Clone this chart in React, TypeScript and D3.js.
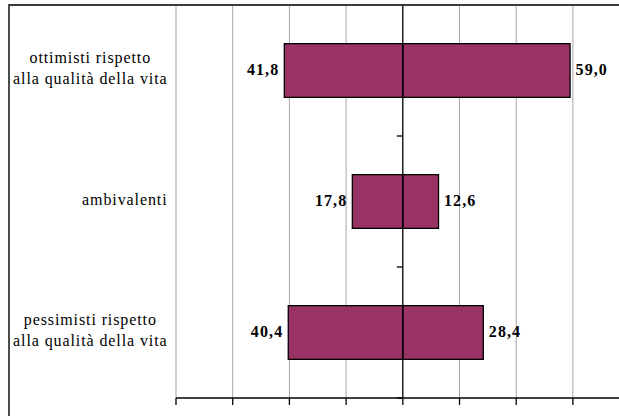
import React, { useEffect, useRef } from "react";
import * as d3 from "d3";

const categories = [
  ["ottimisti rispetto", "alla qualità della vita"],
  ["ambivalenti"],
  ["pessimisti rispetto", "alla qualità della vita"],
];
const leftValues = [41.8, 17.8, 40.4];
const rightValues = [59.0, 12.6, 28.4];
const xTicks = [-80, -60, -40, -20, 0, 20, 40, 60, 80];

const W = 619;
const H = 416;

export default function App() {
  const ref = useRef<SVGSVGElement | null>(null);

  useEffect(() => {
    const svg = d3.select(ref.current);
    svg.selectAll("*").remove();

    const x = d3.scaleLinear().domain([-80, 80]).range([176, 629.6]);
    const y = d3
      .scaleBand<number>()
      .domain(d3.range(categories.length))
      .range([5, 398])
      .paddingInner(0.59)
      .paddingOuter(0.295);
    const step = y.step();

    // gridlines
    svg
      .append("g")
      .selectAll("line")
      .data(xTicks.filter((t) => t !== 0))
      .join("line")
      .attr("x1", (d) => x(d))
      .attr("x2", (d) => x(d))
      .attr("y1", 5)
      .attr("y2", 398)
      .attr("stroke", "#a6a6a6")
      .attr("stroke-width", 1);

    // bars
    const bars = svg.append("g");
    categories.forEach((_, i) => {
      const y0 = y(i)!;
      const bw = y.bandwidth();
      bars
        .append("rect")
        .attr("x", x(-leftValues[i]))
        .attr("y", y0)
        .attr("width", x(0) - x(-leftValues[i]))
        .attr("height", bw)
        .attr("fill", "#993366")
        .attr("stroke", "#000")
        .attr("stroke-width", 1.3);
      bars
        .append("rect")
        .attr("x", x(0))
        .attr("y", y0)
        .attr("width", x(rightValues[i]) - x(0))
        .attr("height", bw)
        .attr("fill", "#993366")
        .attr("stroke", "#000")
        .attr("stroke-width", 1.3);
    });

    const fmt = (v: number) => v.toFixed(1).replace(".", ",");

    // value labels
    const labels = svg
      .append("g")
      .attr("font-family", "'Liberation Serif', 'Times New Roman', serif")
      .attr("font-weight", "bold")
      .attr("font-size", 16)
      .attr("letter-spacing", 1.1)
      .attr("fill", "#000");
    categories.forEach((_, i) => {
      const cy = y(i)! + y.bandwidth() / 2 + 4;
      labels
        .append("text")
        .attr("x", x(-leftValues[i]) - 5)
        .attr("y", cy)
        .attr("text-anchor", "end")
        .text(fmt(leftValues[i]));
      labels
        .append("text")
        .attr("x", x(rightValues[i]) + 5.5)
        .attr("y", cy)
        .attr("text-anchor", "start")
        .text(fmt(rightValues[i]));
    });

    // category axis (vertical at 0)
    svg
      .append("line")
      .attr("x1", x(0))
      .attr("x2", x(0))
      .attr("y1", 5)
      .attr("y2", 398)
      .attr("stroke", "#000")
      .attr("stroke-width", 1.3);
    const boundaries = d3.range(categories.length + 1).map((i) => 5 + i * step);
    svg
      .append("g")
      .selectAll("line")
      .data(boundaries)
      .join("line")
      .attr("x1", x(0) - 6)
      .attr("x2", x(0))
      .attr("y1", (d) => d)
      .attr("y2", (d) => d)
      .attr("stroke", "#000")
      .attr("stroke-width", 1.3);

    // value axis (bottom)
    svg
      .append("line")
      .attr("x1", x(-80))
      .attr("x2", W + 20)
      .attr("y1", 398)
      .attr("y2", 398)
      .attr("stroke", "#000")
      .attr("stroke-width", 1.3);
    svg
      .append("g")
      .selectAll("line")
      .data(xTicks)
      .join("line")
      .attr("x1", (d) => x(d))
      .attr("x2", (d) => x(d))
      .attr("y1", 398)
      .attr("y2", 405)
      .attr("stroke", "#000")
      .attr("stroke-width", 1.3);

    // category labels
    const catG = svg
      .append("g")
      .attr("font-family", "'Liberation Serif', 'Times New Roman', serif")
      .attr("font-size", 16)
      .attr("letter-spacing", 0.9)
      .attr("fill", "#000");
    const blockRight = 167;
    categories.forEach((lines, i) => {
      const cy = y(i)! + y.bandwidth() / 2;
      const texts = lines.map((ln, j) =>
        catG
          .append("text")
          .attr("y", cy + 3 + (j - (lines.length - 1) / 2) * 21)
          .attr("text-anchor", "middle")
          .text(ln)
      );
      const widths = texts.map((t) => (t.node() as SVGTextElement).getComputedTextLength());
      const bw = Math.max(...widths);
      texts.forEach((t) => t.attr("x", blockRight - bw / 2 + 0.5));
    });

    // chart frame
    svg
      .append("path")
      .attr("d", `M9,${H + 5} L9,5 L${W + 5},5`)
      .attr("fill", "none")
      .attr("stroke", "#3a3a3a")
      .attr("stroke-width", 1.8);
  }, []);

  return (
    <svg
      ref={ref}
      width={W}
      height={H}
      style={{ position: "absolute", left: 0, top: 0, background: "#fff" }}
    />
  );
}
